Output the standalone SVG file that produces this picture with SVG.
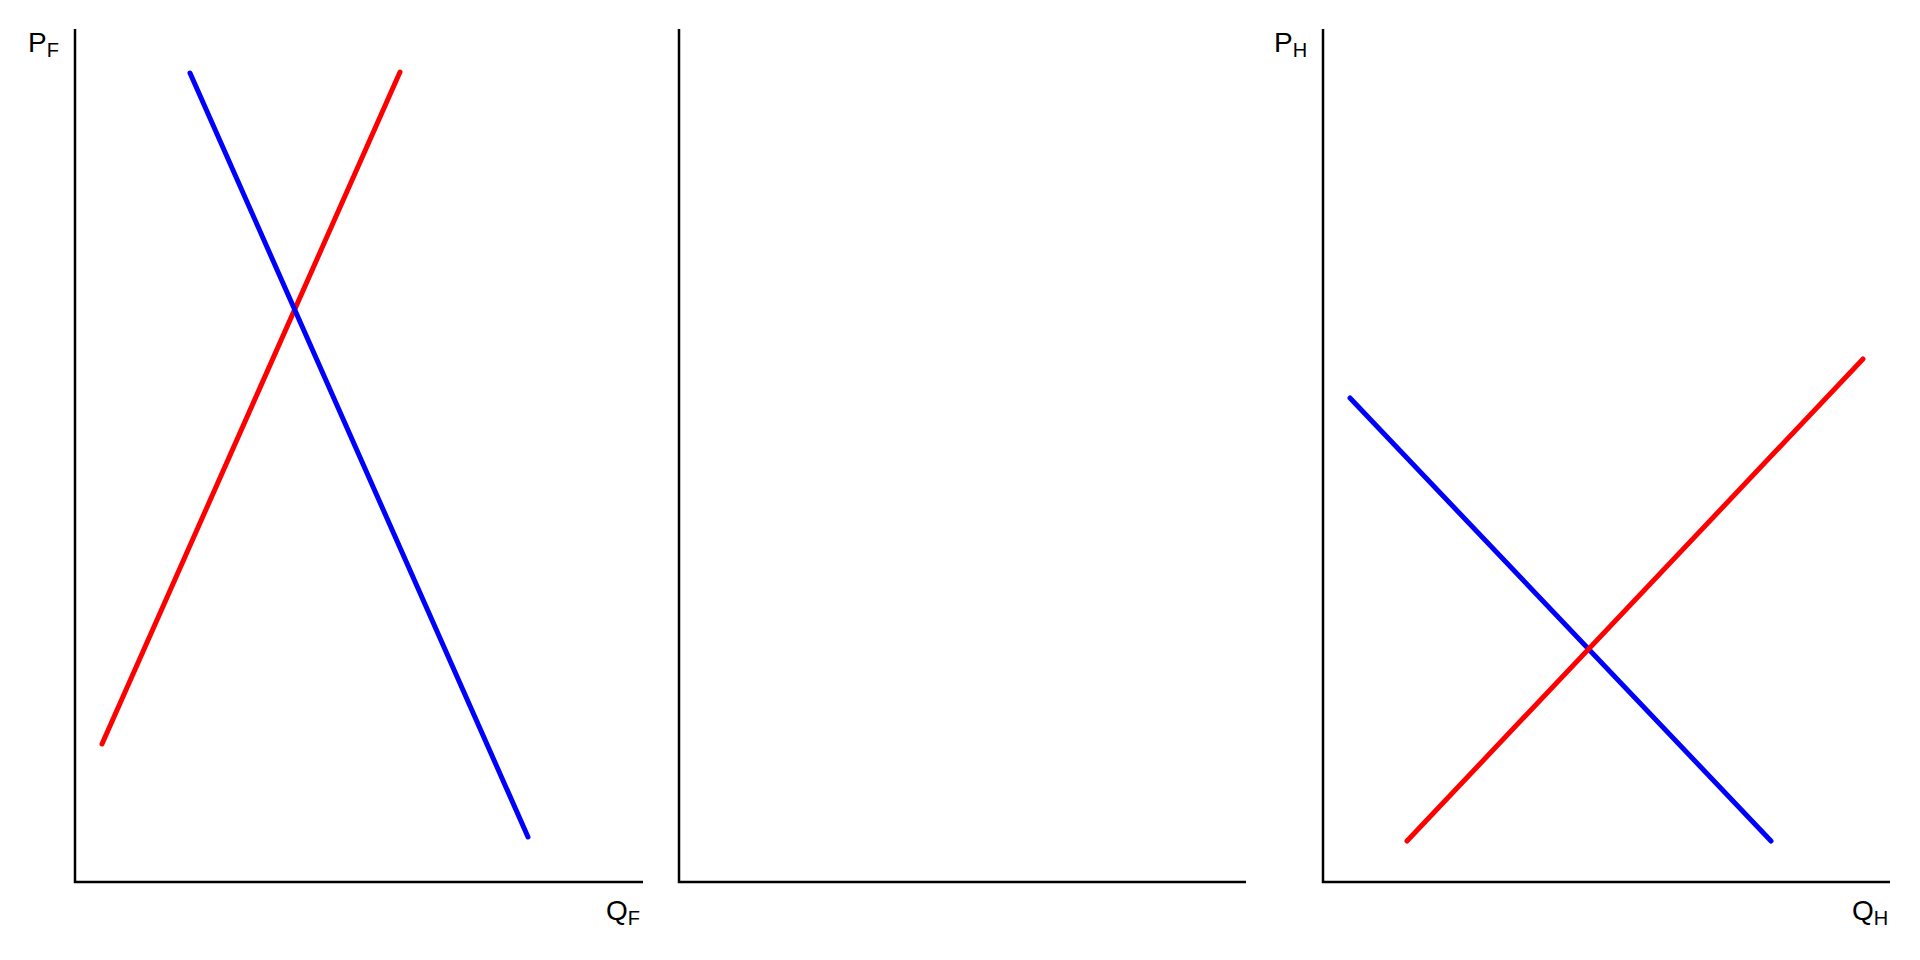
<svg xmlns="http://www.w3.org/2000/svg" width="1920" height="960" viewBox="0 0 1920 960">
<style>
.axis{stroke:#000;stroke-width:2.5;fill:none}
.supply{stroke:#ff0000;stroke-width:5;fill:none;stroke-linecap:round}
.demand{stroke:#0000ff;stroke-width:5;fill:none;stroke-linecap:round}
.lbl{font-family:"Liberation Sans",Arial,sans-serif;font-size:28px;fill:#000}
.sub{font-size:20px}
</style>
<rect width="1920" height="960" fill="#fff"/>
<g id="panel-left">
<path class="axis" d="M75,29 V882 H643"/>
<text class="lbl" x="28" y="52">P<tspan class="sub" dy="5">F</tspan></text>
<text class="lbl" x="606" y="920">Q<tspan class="sub" dy="5">F</tspan></text>
</g>
<g id="panel-middle">
<path class="axis" d="M679,29 V882 H1246"/>
</g>
<g id="panel-right">
<path class="axis" d="M1323,29 V882 H1890"/>
<text class="lbl" x="1274" y="52">P<tspan class="sub" dy="5">H</tspan></text>
<text class="lbl" x="1852" y="920">Q<tspan class="sub" dy="5">H</tspan></text>
</g>
<g id="connectors">
<line class="supply" x1="102" y1="744" x2="400" y2="72"/>
<line class="demand" x1="190" y1="73" x2="528" y2="837"/>
<line class="demand" x1="1350" y1="398" x2="1771" y2="841"/>
<line class="supply" x1="1407" y1="841" x2="1863" y2="359"/>
</g>
</svg>
